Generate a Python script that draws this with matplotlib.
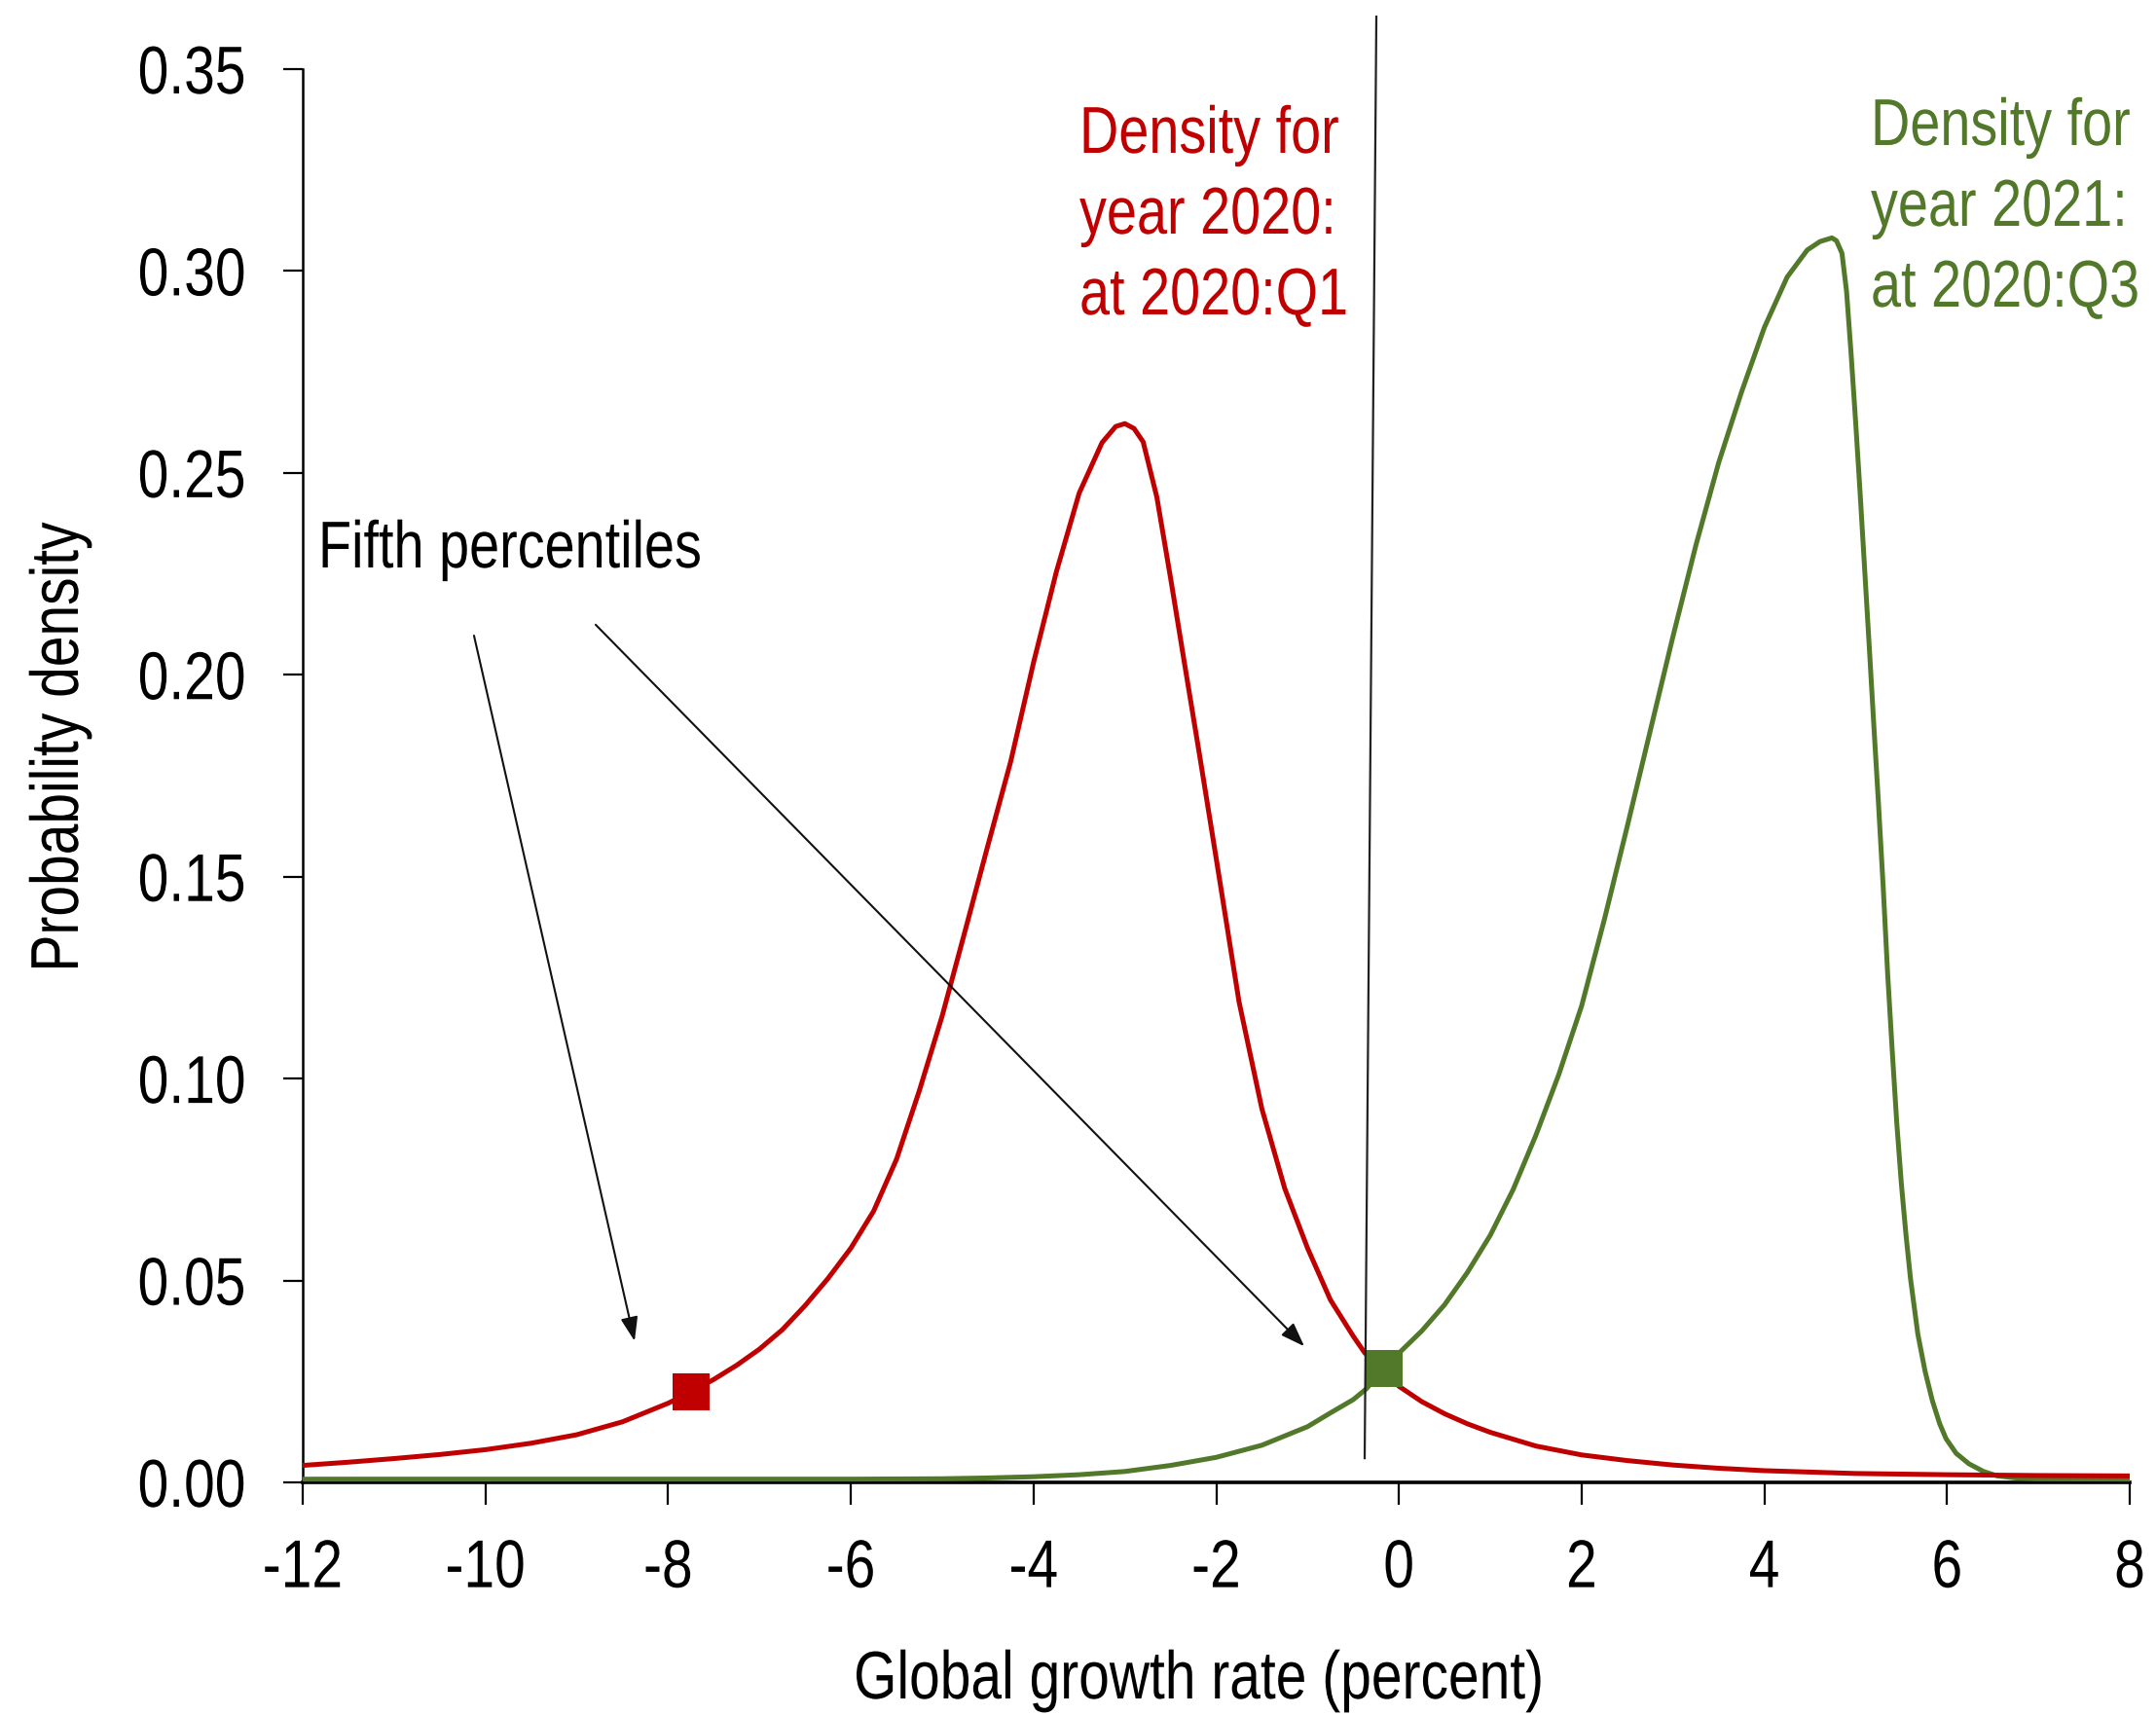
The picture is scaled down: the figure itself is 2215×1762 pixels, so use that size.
import matplotlib
matplotlib.use("Agg")
import matplotlib.pyplot as plt
from matplotlib import font_manager
from matplotlib.patheffects import AbstractPathEffect
from matplotlib.transforms import Affine2D

# ---------------- data ----------------
red_x = [-12.0, -11.5, -11.0, -10.5, -10.0, -9.5, -9.0, -8.5, -8.0, -7.75, -7.5, -7.25,
         -7.0, -6.75, -6.5, -6.25, -6.0, -5.75, -5.5, -5.25, -5.0, -4.75, -4.5, -4.25,
         -4.0, -3.75, -3.5, -3.25, -3.1, -3.0, -2.9, -2.8, -2.65, -2.5, -2.35, -2.18,
         -2.0, -1.75, -1.5, -1.25, -1.0, -0.75, -0.5, -0.375, -0.16, 0.0, 0.25, 0.5,
         0.75, 1.0, 1.5, 2.0, 2.5, 3.0, 3.5, 4.0, 5.0, 6.0, 7.0, 8.0]
red_y = [0.0042, 0.0050, 0.0059, 0.0069, 0.0081, 0.0097, 0.0118, 0.0150, 0.0196, 0.0224,
         0.0255, 0.0290, 0.0330, 0.0378, 0.0438, 0.0505, 0.0580, 0.0672, 0.0800, 0.0970,
         0.1155, 0.1365, 0.1577, 0.1785, 0.2030, 0.2255, 0.2450, 0.2575, 0.2615, 0.2622,
         0.2610, 0.2577, 0.2440, 0.2240, 0.2032, 0.1798, 0.1545, 0.1190, 0.0925, 0.0728,
         0.0580, 0.0452, 0.0362, 0.0321, 0.0275, 0.0238, 0.0200, 0.0170, 0.0145, 0.0124,
         0.0090, 0.0068, 0.0054, 0.0043, 0.0035, 0.0029, 0.0022, 0.0019, 0.0017, 0.0016]

green_x = [-12.0, -10.0, -8.0, -6.0, -5.0, -4.5, -4.0, -3.5, -3.0, -2.5, -2.0, -1.5, -1.0,
           -0.75, -0.5, -0.36, -0.16, 0.0, 0.25, 0.5, 0.75, 1.0, 1.25, 1.5, 1.75, 2.0,
           2.25, 2.5, 2.75, 3.0, 3.25, 3.5, 3.75, 4.0, 4.25, 4.47, 4.61, 4.74, 4.79, 4.85,
           4.90, 4.95, 5.0, 5.05, 5.10, 5.15, 5.20, 5.25, 5.30, 5.35, 5.40, 5.45, 5.50,
           5.55, 5.60, 5.68, 5.76, 5.84, 5.92, 5.99, 6.1, 6.24, 6.4, 6.55, 6.75, 7.0, 8.0]
green_y = [0.0008, 0.0008, 0.0008, 0.0008, 0.0009, 0.0011, 0.0014, 0.0019, 0.0027, 0.0042,
           0.0062, 0.0092, 0.0138, 0.0172, 0.0205, 0.0231, 0.0283, 0.0320, 0.0375, 0.0440,
           0.0520, 0.0612, 0.0725, 0.0860, 0.1010, 0.1180, 0.1395, 0.1625, 0.1860, 0.2095,
           0.2320, 0.2525, 0.2700, 0.2860, 0.2985, 0.3052, 0.3073, 0.3082, 0.3075, 0.3044,
           0.2950, 0.2795, 0.2625, 0.2445, 0.2255, 0.2065, 0.1870, 0.1680, 0.1480, 0.1260,
           0.1070, 0.0890, 0.0740, 0.0615, 0.0505, 0.0368, 0.0275, 0.0202, 0.0145, 0.0108,
           0.0072, 0.0046, 0.0027, 0.0016, 0.0011, 0.0009, 0.0008]

pct5_red = (-7.75, 0.0224)
pct5_green = (-0.16, 0.0283)

vline_x = [-0.375, -0.247]
vline_y = [0.006, 0.363]

arrow1 = ((-10.125, 0.2097), (-8.367, 0.0350))
arrow2 = ((-8.793, 0.2124), (-1.036, 0.0337))

x_ticks = [-12, -10, -8, -6, -4, -2, 0, 2, 4, 6, 8]
x_ticklabels = ["-12", "-10", "-8", "-6", "-4", "-2", "0", "2", "4", "6", "8"]
y_ticks = [0.00, 0.05, 0.10, 0.15, 0.20, 0.25, 0.30, 0.35]
y_ticklabels = ["0.00", "0.05", "0.10", "0.15", "0.20", "0.25", "0.30", "0.35"]

red_lines = ["Density for", "year 2020:", "at 2020:Q1"]
green_lines = ["Density for", "year 2021:", "at 2020:Q3"]


# ---------------- narrow text rendering ----------------
class Condense(AbstractPathEffect):
    """Draw text glyphs horizontally condensed (Arial-Narrow-like look)."""

    def __init__(self, sx=0.82, anchor="left", shift_px=0.0):
        super().__init__()
        self.sx = sx
        self.anchor = anchor
        self.shift_px = shift_px

    def draw_path(self, renderer, gc, tpath, affine, rgbFace=None):
        if self.anchor == "left":
            cx = 0.0
        else:
            ext = tpath.get_extents()
            cx = ext.x1 if self.anchor == "right" else 0.5 * (ext.x0 + ext.x1)
        t = (Affine2D().translate(-cx, 0).scale(self.sx, 1.0).translate(cx, 0)
             + affine + Affine2D().translate(self.shift_px, 0))
        renderer.draw_path(gc, tpath, t, rgbFace)


names = {f.name for f in font_manager.fontManager.ttflist}
if "Liberation Sans Narrow" in names:
    FAM = ["Liberation Sans Narrow", "DejaVu Sans"]
    SX = 1.0
else:
    FAM = ["Liberation Sans", "DejaVu Sans"]
    SX = 0.82
plt.rcParams["font.family"] = FAM
plt.rcParams["axes.unicode_minus"] = False


def cond(anchor, shift=0.0):
    return [Condense(SX, anchor, shift)]


RED = "#C00000"
GREEN = "#52782A"
FS = 50

W, H = 2215, 1762
fig = plt.figure(figsize=(W / 100, H / 100), dpi=100)
ax = fig.add_axes([311 / W, 1 - 1523 / H, (2188 - 311) / W, (1523 - 71) / H])

ax.plot(green_x, green_y, color=GREEN, lw=3.6, solid_joinstyle="round", zorder=3)
ax.plot(red_x, red_y, color=RED, lw=3.6, solid_joinstyle="round", zorder=4)
ax.plot([pct5_red[0]], [pct5_red[1]], marker="s", ms=27, color=RED, mew=0, zorder=5)
ax.plot([pct5_green[0]], [pct5_green[1]], marker="s", ms=27, color=GREEN, mew=0, zorder=5)
ax.plot(vline_x, vline_y, color="#222222", lw=1.6, clip_on=False, zorder=6)

for start, tip in (arrow1, arrow2):
    ax.annotate("", xy=tip, xytext=start,
                arrowprops=dict(arrowstyle="-|>,head_length=0.5,head_width=0.18",
                                lw=1.5, color="#111111", mutation_scale=30,
                                shrinkA=0, shrinkB=0), zorder=7)

ax.set_xlim(-12, 8)
ax.set_ylim(0, 0.35)
ax.set_xticks(x_ticks)
ax.set_xticklabels(x_ticklabels, fontsize=FS)
ax.set_yticks(y_ticks)
ax.set_yticklabels(y_ticklabels, fontsize=FS)
ax.tick_params(axis="x", direction="out", length=16.5, width=1.6, pad=25)
ax.tick_params(axis="y", direction="out", length=14.5, width=1.6, pad=27)
for t in ax.xaxis.get_major_ticks():
    t.label1.set_path_effects(cond("center"))
for t in ax.yaxis.get_major_ticks():
    t.label1.set_path_effects(cond("right"))

for s in ("top", "right"):
    ax.spines[s].set_visible(False)
ax.spines["left"].set_linewidth(1.8)
ax.spines["bottom"].set_linewidth(2.6)


def dx(px):
    return -12 + (px - 311) / 93.85


def dy(py):
    return (1523 - py) / 4148.6


for ln, by in zip(red_lines, [157, 240, 323]):
    ax.text(dx(1109), dy(by), ln, color=RED, fontsize=FS - 1, ha="left",
            va="baseline", clip_on=False, path_effects=cond("left"))

# green block: left edge of the glyphs at x=1922 px; the text box is kept
# inside the figure by anchoring it on its right end.
renderer = fig.canvas.get_renderer()
GREEN_LEFT = 1922
RIGHT_EDGE = 2210
for ln, by in zip(green_lines, [149, 232, 315]):
    t = ax.text(dx(RIGHT_EDGE), dy(by), ln, color=GREEN, fontsize=FS - 1, ha="right",
                va="baseline", clip_on=False)
    w = t.get_window_extent(renderer).width
    t.set_path_effects(cond("left", GREEN_LEFT - (RIGHT_EDGE - w)))

ax.text(dx(327), dy(583), "Fifth percentiles", color="black", fontsize=FS - 1,
        ha="left", va="baseline", path_effects=cond("left"))

fig.text(1232 / W, 1 - 1745 / H, "Global growth rate (percent)", fontsize=FS,
         ha="center", va="baseline", path_effects=cond("center"))
fig.text(62 / W, 1 - 768 / H, "Probability density", fontsize=FS, rotation=90,
         ha="center", va="center", path_effects=cond("center"))

fig.savefig("out.png", dpi=100, facecolor="white")
